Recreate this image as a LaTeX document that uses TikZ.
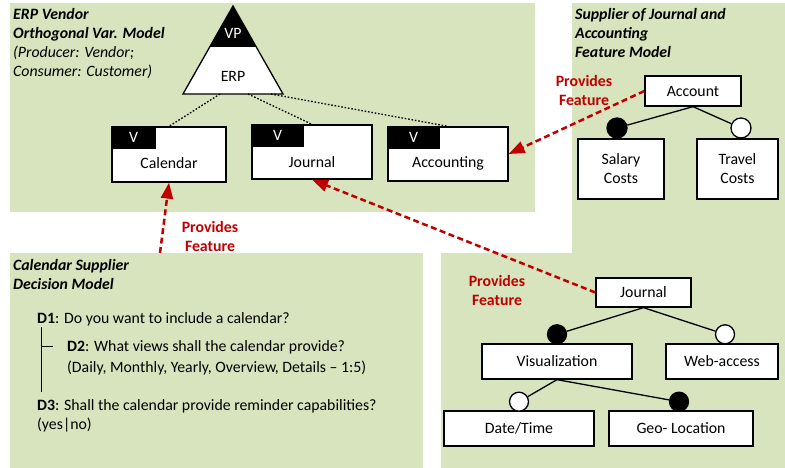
\documentclass[tikz,border=0pt]{standalone}
\usepackage{fontspec}
\setmainfont{Carlito}
\usetikzlibrary{arrows.meta}
\definecolor{panel}{HTML}{D7E4BD}
\definecolor{prov}{HTML}{C00000}
\begin{document}
\begin{tikzpicture}[x=1pt,y=-1pt,
  font=\fontsize{15.8}{19}\selectfont,
  panelbox/.style={fill=panel,draw=none},
  boxstyle/.style={draw=black,line width=1.3pt,fill=white,inner sep=0pt},
  featbox/.style={boxstyle,align=center},
  vtab/.style={fill=black,text=white,inner sep=0pt,anchor=north west,minimum height=22pt},
  plain/.style={inner sep=0pt},
  titletxt/.style={anchor=base west,inner sep=0pt,font=\fontsize{15.8}{19}\selectfont\bfseries\itshape},
  subtxt/.style={anchor=base west,inner sep=0pt,font=\fontsize{15.8}{19}\selectfont\itshape},
  bodytxt/.style={anchor=base west,inner sep=0pt},
  provlabel/.style={text=prov,font=\fontsize{15.8}{19}\selectfont\bfseries,align=center,inner sep=0pt},
  provarrow/.style={draw=prov,line width=2.5pt,dash pattern=on 6pt off 3.5pt,-{Triangle[length=16pt,width=12pt]}},
  dotline/.style={line width=1.3pt,dash pattern=on 1.6pt off 1.8pt},
  treeline/.style={line width=1.3pt},
  mand/.style={circle,fill=black,draw=black,line width=1.3pt,inner sep=0pt},
  opt/.style={circle,fill=white,draw=black,line width=1.3pt,inner sep=0pt}
]
\useasboundingbox (0,0) rectangle (785,468);
% panels
\fill[panelbox] (10,3) rectangle (535,212);
\fill[panelbox] (572,3) rectangle (785,254);
\fill[panelbox] (441,253) rectangle (785,468);
\fill[panelbox] (10,253) rectangle (423,468);

% panel titles
\node[titletxt] (t1a) at (13,20) {ERP Vendor};
\node[titletxt] (t1b) at (13,39) {Orthogonal Var. Model};
\node[subtxt] (t1c) at (13,58) {(Producer: Vendor;};
\node[subtxt] (t1d) at (13,77) {Consumer: Customer)};
\node[titletxt] (t2a) at (575,20) {Supplier of Journal and};
\node[titletxt] (t2b) at (575,39) {Accounting};
\node[titletxt] (t2c) at (575,58) {Feature Model};
\node[titletxt] (t3a) at (13,270) {Calendar Supplier};
\node[titletxt] (t3b) at (13,289) {Decision Model};

% ERP triangle
\coordinate (apex) at (233,6);
\coordinate (bl) at (183,94);
\coordinate (br) at (283,94);
\coordinate (kl) at (209.7,47);
\coordinate (kr) at (256.3,47);
\fill[white] (apex) -- (bl) -- (br) -- cycle;
\fill[black] (apex) -- (kl) -- (kr) -- cycle;
\draw[line width=1.3pt,line join=miter] (apex) -- (bl) -- (br) -- cycle;
\node[plain,text=white] (vp) at (233,33) {VP};
\node[plain] (erp) at (233,76) {ERP};

% variant boxes
\node[boxstyle,minimum width=114pt,minimum height=55pt] (cal) at (169,154.5) {};
\node[vtab,minimum width=44pt] (caltab) at (cal.north west) {V};
\node[plain] (calt) at (169,163) {Calendar};
\node[boxstyle,minimum width=120pt,minimum height=54pt] (jou) at (312,152) {};
\node[vtab,minimum width=52pt] (joutab) at (jou.north west) {V};
\node[plain] (jout) at (312,162) {Journal};
\node[boxstyle,minimum width=120pt,minimum height=54pt] (acc) at (448,154) {};
\node[vtab,minimum width=52pt] (acctab) at (acc.north west) {V};
\node[plain] (acct) at (448,163) {Accounting};

% dotted links
\coordinate (b1) at (220,94);
\coordinate (b2) at (248,94);
\coordinate (b3) at (271,94);
\draw[dotline] (b1) -- (cal.north);
\draw[dotline] (b2) -- (jou.north);
\draw[dotline] (b3) -- (acc.north);

% account feature model
\node[featbox,minimum width=96pt,minimum height=30pt] (account) at (693,91) {Account};
\node[featbox,minimum width=86pt,minimum height=60pt] (salary) at (621,169) {Salary\\Costs};
\node[featbox,minimum width=81pt,minimum height=60pt] (travel) at (737.5,169) {Travel\\Costs};
\node[mand,minimum size=20pt] (c1) at (617,128) {};
\node[opt,minimum size=20pt] (c2) at (741,128) {};
\draw[treeline] (account.south) -- (c1);
\draw[treeline] (account.south) -- (c2);

% journal feature model
\node[featbox,minimum width=95pt,minimum height=29pt] (jr) at (643.5,292.5) {Journal};
\node[featbox,minimum width=150pt,minimum height=35pt] (vis) at (557,361.5) {Visualization};
\node[featbox,minimum width=112pt,minimum height=35pt] (web) at (722,361.5) {Web-access};
\node[featbox,minimum width=150pt,minimum height=35pt] (dt) at (519,428.5) {Date/Time};
\node[featbox,minimum width=144pt,minimum height=35pt] (geo) at (681,428.5) {Geo- Location};
\node[mand,minimum size=19pt] (c3) at (557,334.3) {};
\node[opt,minimum size=19pt] (c4) at (725,334.3) {};
\node[opt,minimum size=19pt] (c5) at (519,401.7) {};
\node[mand,minimum size=19pt] (c6) at (679,401.7) {};
\draw[treeline] (jr.south) -- (c3);
\draw[treeline] (jr.south) -- (c4);
\draw[treeline] (vis.south) -- (c5);
\draw[treeline] (vis.south) -- (c6);

% decision model
\node[bodytxt] (d1) at (37,323) {\textbf{D1}: Do you want to include a calendar?};
\node[bodytxt] (d2) at (67,351) {\textbf{D2}: What views shall the calendar provide?};
\node[bodytxt] (d2b) at (67,372) {(Daily, Monthly, Yearly, Overview, Details – 1:5)};
\node[bodytxt] (d3) at (37,410) {\textbf{D3}: Shall the calendar provide reminder capabilities?};
\node[bodytxt] (d3b) at (37,429) {(yes{|}no)};
\coordinate (vt) at (41,327);
\coordinate (vb) at (41,392);
\coordinate (tk1) at (41,346);
\coordinate (tk2) at (53,346);
\draw[line width=1pt] (vt) -- (vb);
\draw[line width=1pt] (tk1) -- (tk2);

% provides feature
\coordinate (calsrc) at (160,253);
\draw[provarrow] (account.west) -- (acc.east);
\draw[provarrow] (calsrc) -- (cal.south);
\draw[provarrow] (jr.west) -- (jou.south);
\node[provlabel] (pf1) at (584,90.5) {Provides\\Feature};
\node[provlabel] (pf2) at (210,236.5) {Provides\\Feature};
\node[provlabel] (pf3) at (497,290.5) {Provides\\Feature};
\end{tikzpicture}
\end{document}
